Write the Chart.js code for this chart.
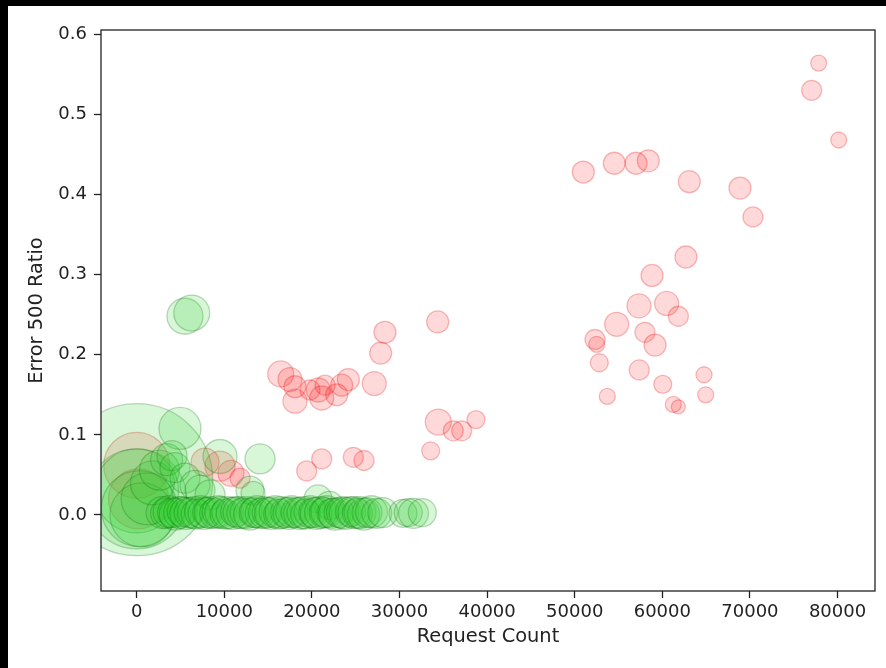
<!DOCTYPE html>
<html>
<head>
<meta charset="utf-8">
<script src="https://cdn.jsdelivr.net/npm/chart.js@4.4.0/dist/chart.umd.min.js"></script>
<style>
  html, body { margin: 0; padding: 0; background: #000; }
  #wrap { position: absolute; left: 8px; top: 6px; width: 878px; height: 662px; background: #fff; }
  canvas { display: block; }
</style>
</head>
<body>
<div id="wrap"><canvas id="chart" width="878" height="662"></canvas></div>
<script>
// requests with a high 500 ratio
const redX = [77850, 77050, 80140, 50980, 54520, 57000, 58400, 63080, 68870, 70350,
  62700, 58830, 57340, 60500, 61830, 54790, 52320, 52510, 58020, 59170,
  52810, 57370, 64760, 60050, 53720, 64950, 61260, 61830,
  28340, 34360, 27850, 27120,
  16440, 17500, 18070, 18070, 20730, 21120, 22830, 24160, 23400, 21500, 19780,
  34430, 36140, 37100, 38730, 33560,
  21120, 19410, 24730, 25950,
  0, 200, 7800, 9510, 10760, 11800];
const redY = [0.564, 0.530, 0.468, 0.428, 0.439, 0.439, 0.442, 0.416, 0.408, 0.372,
  0.322, 0.299, 0.261, 0.264, 0.248, 0.238, 0.219, 0.213, 0.228, 0.212,
  0.190, 0.181, 0.175, 0.163, 0.148, 0.150, 0.138, 0.135,
  0.228, 0.241, 0.202, 0.164,
  0.176, 0.169, 0.160, 0.142, 0.156, 0.146, 0.150, 0.169, 0.162, 0.162, 0.156,
  0.116, 0.105, 0.105, 0.119, 0.080,
  0.070, 0.055, 0.072, 0.068,
  0.062, 0.020, 0.066, 0.061, 0.052, 0.046];
const redSize = [8, 10, 8, 11, 11, 11, 11, 11, 11, 10,
  11, 11, 12, 12, 10, 12, 10, 8, 10, 11,
  9, 10, 8, 9, 8, 8, 8, 7,
  11, 11, 11, 12,
  13, 12, 11, 12, 12, 12, 11, 11, 11, 10, 10,
  13, 10, 10, 9, 9,
  10, 10, 10, 10,
  33, 30, 14, 15, 13, 10];

// requests with a low 500 ratio
const greenX = [0, 0, 0, 300, 600, 1200, 1800, 2600,
  4940, 5510, 6280, 14080, 9510, 3420, 4030, 4370, 5510, 6650, 7230, 8370,
  12930, 13280, 20700, 22000];
const greenY = [0.044, 0.020, 0.030, 0.008, 0.000, 0.020, 0.040, 0.056,
  0.108, 0.248, 0.252, 0.070, 0.073, 0.069, 0.074, 0.059, 0.046, 0.037, 0.031, 0.025,
  0.031, 0.027, 0.020, 0.012];
const greenSize = [76, 50, 42, 38, 32, 26, 22, 20,
  21, 18, 18, 15, 17, 16, 15, 15, 15, 15, 15, 15,
  14, 12, 14, 14];

// the dense strip along zero
const bandX = [2900, 3300, 3700, 4100, 4400, 4900, 5200, 5600, 6000, 6500,
  6800, 7300, 7700, 8100, 8400, 8900, 9300, 9600, 10100, 10400,
  10900, 11300, 11700, 12000, 12500, 12900, 13400, 13700, 14100, 14600,
  14900, 15300, 15800, 16200, 16500, 17000, 17400, 17700, 18200, 18600,
  19000, 19300, 19800, 20200, 20500, 21000, 21400, 21700, 22300, 22600,
  23100, 23500, 23800, 24400, 24800, 25200, 25500, 25900, 26300, 26800,
  27400, 28100, 30400, 31000, 31600, 32600];
const bandY = [0.003, 0.002, 0.004, 0.003, 0.001, 0.003, 0.004, 0.002, 0.003, 0.003,
  0.001, 0.004, 0.002, 0.003, 0.003, 0.002, 0.004, 0.003, 0.001, 0.003,
  0.002, 0.004, 0.003, 0.002, 0.003, 0.001, 0.003, 0.004, 0.002, 0.003,
  0.003, 0.002, 0.004, 0.001, 0.003, 0.003, 0.002, 0.004, 0.003, 0.002,
  0.003, 0.001, 0.004, 0.003, 0.002, 0.003, 0.003, 0.004, 0.002, 0.001,
  0.003, 0.003, 0.002, 0.004, 0.003, 0.002, 0.003, 0.001, 0.003, 0.004,
  0.002, 0.003, 0.002, 0.003, 0.002, 0.003];
const bandSize = [16, 15, 16, 15, 16, 16, 15, 16, 15, 16,
  15, 16, 16, 15, 16, 15, 16, 16, 15, 16,
  16, 15, 16, 15, 16, 16, 15, 16, 15, 16,
  15, 16, 16, 15, 16, 15, 16, 16, 15, 16,
  16, 15, 16, 15, 16, 16, 15, 16, 15, 16,
  15, 16, 16, 15, 16, 15, 16, 16, 15, 16,
  15, 15, 14, 14, 15, 14];

const xTicks = [0, 10000, 20000, 30000, 40000, 50000, 60000, 70000, 80000];
const yTicks = [0.0, 0.1, 0.2, 0.3, 0.4, 0.5, 0.6];

const toPoints = (xs, ys, ss) => xs.map((x, i) => ({ x: x, y: ys[i], r: ss[i] }));

const tickFont = { family: 'DejaVu Sans', size: 18 };
const titleFont = { family: 'DejaVu Sans', size: 19.4 };
const ink = '#222';

// clip the bubbles to the axes, then draw the box round them like matplotlib
const framePlugin = {
    id: 'frame',
    beforeDatasetsDraw(chart) {
        const { ctx, chartArea: a } = chart;
        ctx.save();
        ctx.beginPath();
        ctx.rect(a.left, a.top, a.right - a.left, a.bottom - a.top);
        ctx.clip();
    },
    afterDatasetsDraw(chart) {
        const { ctx, chartArea: a } = chart;
        ctx.restore();
        ctx.save();
        ctx.strokeStyle = ink;
        ctx.lineWidth = 1.3;
        ctx.strokeRect(a.left, a.top, a.right - a.left, a.bottom - a.top);
        ctx.restore();
    }
};

new Chart(document.getElementById('chart').getContext('2d'), {
    type: 'bubble',
    data: {
        datasets: [
            {
                label: 'low',
                data: toPoints(greenX, greenY, greenSize).concat(toPoints(bandX, bandY, bandSize)),
                backgroundColor: 'rgba(50, 205, 50, 0.19)',
                borderColor: 'rgba(0, 110, 0, 0.26)',
                borderWidth: 1.3,
                clip: 0,
                order: 0
            },
            {
                label: 'high',
                data: toPoints(redX, redY, redSize),
                backgroundColor: 'rgba(255, 0, 0, 0.15)',
                borderColor: 'rgba(225, 0, 0, 0.26)',
                borderWidth: 1.3,
                clip: 0,
                order: 1
            }
        ]
    },
    options: {
        responsive: false,
        animation: false,
        events: [],
        layout: { autoPadding: false, padding: { top: 24, right: 11, left: 0, bottom: 0 } },
        plugins: {
            legend: { display: false },
            tooltip: { enabled: false }
        },
        scales: {
            x: {
                type: 'linear',
                min: -4075,
                max: 84280,
                afterFit(scale) { scale.height = 77; },
                afterBuildTicks(scale) { scale.ticks = xTicks.map(v => ({ value: v })); },
                border: { display: false },
                grid: {
                    display: true,
                    drawOnChartArea: false,
                    drawTicks: true,
                    tickLength: 7,
                    tickWidth: 1.3,
                    tickColor: ink
                },
                ticks: {
                    color: ink,
                    font: tickFont,
                    padding: 4,
                    maxRotation: 0,
                    autoSkip: false,
                    callback: v => String(v)
                },
                title: {
                    display: true,
                    text: 'Request Count',
                    color: ink,
                    font: titleFont,
                    padding: { top: 0, bottom: 19 }
                }
            },
            y: {
                type: 'linear',
                min: -0.0949,
                max: 0.6053,
                afterFit(scale) { scale.width = 93; },
                afterBuildTicks(scale) { scale.ticks = yTicks.map(v => ({ value: v })); },
                border: { display: false },
                grid: {
                    display: true,
                    drawOnChartArea: false,
                    drawTicks: true,
                    tickLength: 7,
                    tickWidth: 1.3,
                    tickColor: ink
                },
                ticks: {
                    color: ink,
                    font: tickFont,
                    padding: 7,
                    autoSkip: false,
                    callback: v => v.toFixed(1)
                },
                title: {
                    display: true,
                    text: 'Error 500 Ratio',
                    color: ink,
                    font: titleFont,
                    padding: { top: 17, bottom: 0 }
                }
            }
        }
    },
    plugins: [framePlugin]
});
</script>
</body>
</html>
